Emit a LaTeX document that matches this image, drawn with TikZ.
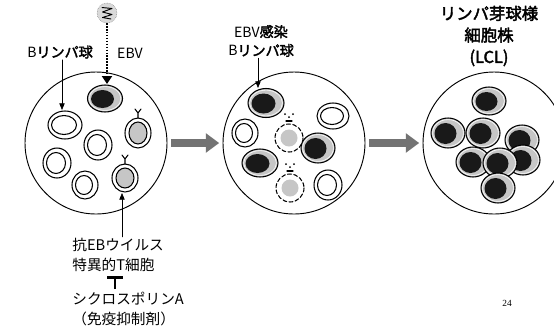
\documentclass[tikz,border=0pt]{standalone}
\usepackage{fontspec}
\setmainfont{Liberation Serif}
\newfontfamily\jp{Noto Sans CJK JP}
\newfontfamily\jpb{Noto Sans CJK JP}[FakeBold=2.5]
\usetikzlibrary{arrows.meta}

% 感染細胞（核が黒）
\newcommand{\darkcell}[4]{%
  \filldraw[fill=gray!45, line width=0.9pt] (#1,#2) ellipse[x radius=#3, y radius=#4];
  \draw[white, line width=0.5pt] (#1,#2) ellipse[x radius=#3-1.6, y radius=#4-1.6];
  \fill[black!90] (#1-2.5,#2+0.5) ellipse[x radius=#3-6, y radius=#4-4.5];
}
% 非感染細胞
\newcommand{\restcell}[4]{%
  \filldraw[fill=white, line width=0.9pt] (#1,#2) ellipse[x radius=#3, y radius=#4];
  \draw[line width=0.9pt] (#1-1,#2) ellipse[x radius=#3-4.5, y radius=#4-4.5];
}
% 抗原をもつ細胞
\newcommand{\agcell}[4]{%
  \filldraw[fill=white, line width=0.9pt] (#1,#2) ellipse[x radius=#3, y radius=#4];
  \filldraw[fill=gray!45, line width=0.9pt] (#1,#2) ellipse[x radius=#3-4, y radius=#4-4];
  \draw[line width=0.9pt] (#1,#2-#4) -- (#1,#2-#4-5) -- ++(-3,-4)
    (#1,#2-#4-5) -- ++(3,-4);
}
% 壊れた細胞
\newcommand{\deadcell}[2]{%
  \fill[gray!45] (#1,#2) circle[radius=8.5];
  \draw[line width=0.9pt, dash pattern=on 3.4pt off 2pt] (#1,#2) circle[radius=14];
  \draw[line width=0.9pt] (#1-3,#2-17) -- (#1+3,#2-17);
  \fill (#1,#2-21) circle[radius=1] (#1-4,#2-24) circle[radius=1]
    (#1+4,#2-24) circle[radius=1];
}

\begin{document}
\begin{tikzpicture}[
  x=0.3mm, y=-0.3mm,
  line cap=round,
  line join=round,
  dish/.style={circle, draw, line width=0.8pt, minimum size=42.6mm, inner sep=0pt},
  virus/.style={circle, draw=gray, densely dotted, fill=gray!30, minimum size=6mm, inner sep=0pt},
  bigarrow/.style={line width=2.4mm, black!55, line cap=butt,
    -{Triangle[length=4mm, width=5.6mm]}, shorten <=1mm, shorten >=1mm},
  thinarrow/.style={line width=0.6pt, -{Triangle[length=2mm, width=1.6mm]}},
  inhibit/.style={line width=2pt, line cap=butt, -{Bar[width=4.8mm, line width=2.2pt]},
    shorten >=1mm, shorten <=0.5mm},
  lbl/.style={font=\jp\fontsize{12}{16}\selectfont, inner sep=1pt}
]
  \useasboundingbox (0,0) rectangle (554,325);

  % 培養皿
  \node[dish] (d1) at (96,143) {};
  \node[dish] (d2) at (294,143) {};
  \node[dish] (d3) at (494,143) {};

  \draw[bigarrow] (d1) -- (d2);
  \draw[bigarrow] (d2) -- (d3);

  % 1つ目: B細胞とEBV
  \darkcell{105}{98.5}{17.5}{13.5}
  \restcell{65}{125}{17}{14}
  \restcell{98}{145}{14}{15}
  \restcell{57}{163}{14}{15}
  \restcell{85}{185}{13}{14}
  \agcell{138}{133}{13}{15}
  \agcell{125}{178}{13}{14}

  \coordinate (inftop) at (107,84);
  \coordinate (btop) at (62,110);
  \coordinate (agbot) at (122,193);
  \coordinate (tbar) at (115,280);

  \node[virus] (ebv) at (107,13) {};
  \draw[line width=0.8pt] (102,7.5) -- (112,8.5) -- (102.5,12) -- (112,14.5)
    -- (102.5,17.5) -- (111,19);
  \draw[line width=1.8pt, line cap=butt, dash pattern=on 1.2pt off 1.3pt,
    -{Triangle[length=2.4mm, width=3mm]}] (ebv) -- (inftop);

  \node[lbl] (blabel) at (60,52) {B{\jpb リンパ球}};
  \node[lbl] (ebvlabel) at (130,53) {EBV};
  \draw[thinarrow] (blabel.south -| btop) -- (btop);

  % 2つ目: 感染後
  \darkcell{266}{103}{18}{14.5}
  \restcell{333}{116}{16}{13}
  \restcell{245}{133}{13}{14}
  \deadcell{289}{138}
  \darkcell{318}{148}{17}{15}
  \darkcell{260}{163}{18}{14}
  \deadcell{290}{188}
  \restcell{328}{185}{14}{15}

  \coordinate (inf2top) at (258,88);
  \node[lbl, align=center, font=\jp\fontsize{12}{16}\selectfont] (inflabel) at (261,41)
    {EBV{\jpb 感染}\\B{\jpb リンパ球}};
  \draw[thinarrow] (inflabel.south -| inf2top) -- (inf2top);

  % 3つ目: LCL
  \darkcell{489}{101}{17}{14}
  \darkcell{448}{133}{17}{15}
  \darkcell{483}{133}{17}{15}
  \darkcell{522}{140}{17}{15}
  \darkcell{473}{162}{17}{15}
  \darkcell{523}{160}{17}{15}
  \darkcell{500}{163}{17}{15}
  \darkcell{498}{188}{17}{15}

  \node[lbl, align=center, font=\jpb\fontsize{14}{18.5}\selectfont] (lcllabel) at (489,36)
    {リンパ芽球様\\細胞株\\(LCL)};

  % T細胞とシクロスポリン
  \node[lbl, anchor=west, align=left, font=\jp\fontsize{12.5}{17}\selectfont] (abt) at (71,255)
    {抗EBウイルス\\特異的T細胞};
  \node[lbl, anchor=west, align=left, font=\jp\fontsize{12.5}{17}\selectfont] (cyc) at (71,309)
    {シクロスポリンA\\（免疫抑制剤）};
  \draw[thinarrow] (abt.north -| agbot) -- (agbot);
  \draw[inhibit] (cyc.north -| tbar) -- (abt.south -| tbar);

  \node[font=\fontsize{8}{9}\selectfont] (pg) at (507,303) {24};
\end{tikzpicture}
\end{document}
